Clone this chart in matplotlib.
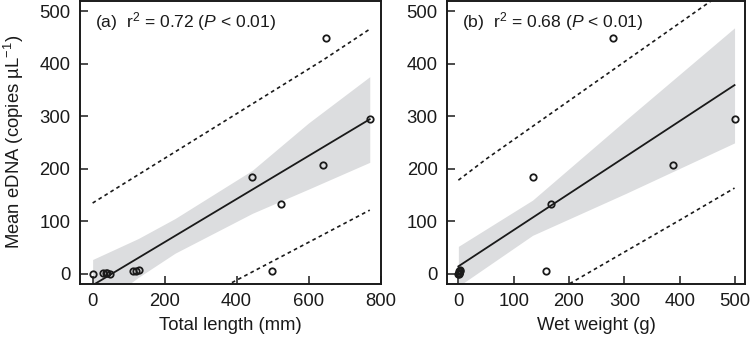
import matplotlib
matplotlib.use("Agg")
import matplotlib.pyplot as plt
import numpy as np

plt.rcParams['font.family'] = ['Liberation Sans', 'DejaVu Sans']
plt.rcParams['mathtext.fontset'] = 'custom'
plt.rcParams['mathtext.rm'] = 'Liberation Sans'
plt.rcParams['mathtext.it'] = 'Liberation Sans:italic'

# ---- data ----
edna = [0, 2, 1, 1, 0, 4.5, 5.5, 7, 185, 5.7, 133, 206, 448, 294]
total_length = [0, 30, 36, 41, 47, 113, 120, 128, 444, 498, 523, 640, 649, 770]
wet_weight = [0.2, 0.4, 0.6, 0.8, 1.0, 2.0, 2.3, 2.6, 134, 159, 167, 388, 279, 499]

# panel (a) regression, confidence band, prediction limits
a_fit_x = [0, 770]
a_fit_y = [-22, 294]
a_band_x = [0, 127, 229, 444, 600, 770]
a_band_lo = [-71, -7, 39, 115, 161, 212]
a_band_hi = [27, 67, 105, 197, 287, 375]
a_pu_x = [0, 641, 771]
a_pu_y = [134.5, 407, 466]
a_pl_x = [387, 770]
a_pl_y = [-17, 121]

# panel (b)
b_fit_x = [0, 499]
b_fit_y = [14, 359]
b_band_x = [0, 134, 303, 499]
b_band_lo = [-24, 73, 153, 249]
b_band_hi = [52, 140, 293, 468]
b_pu_x = [0, 52, 459, 499]
b_pu_y = [178, 219.6, 521, 551]
b_pl_x = [201, 400, 499]
b_pl_y = [-19, 102, 163]

labels = [r'(a)  r$^2$ = 0.72 ($\mathit{P}$ < 0.01)', r'(b)  r$^2$ = 0.68 ($\mathit{P}$ < 0.01)']
xlabels = ['Total length (mm)', 'Wet weight (g)']
ylabel = r'Mean eDNA (copies µL$^{-1}$)'
a_xticks = [0, 200, 400, 600, 800]
b_xticks = [0, 100, 200, 300, 400, 500]
yticks = [0, 100, 200, 300, 400, 500]

fig = plt.figure(figsize=(7.5, 3.42), dpi=100)
ax1 = fig.add_axes([0.1067, 0.1705, 0.4007, 0.828])
ax2 = fig.add_axes([0.5964, 0.1705, 0.3970, 0.828])

band_col = '#dcdddf'
fs = 13.3
panels = [
    (ax1, total_length, a_fit_x, a_fit_y, a_band_x, a_band_lo, a_band_hi, a_pu_x, a_pu_y, a_pl_x, a_pl_y, (-35, 800), a_xticks),
    (ax2, wet_weight, b_fit_x, b_fit_y, b_band_x, b_band_lo, b_band_hi, b_pu_x, b_pu_y, b_pl_x, b_pl_y, (-20, 518), b_xticks),
]
for i, (ax, xs, fx, fy, bx, blo, bhi, pux, puy, plx, ply, xl, xt) in enumerate(panels):
    ax.fill_between(bx, blo, bhi, color=band_col, lw=0, zorder=1)
    ax.plot(fx, fy, color='#1a1a1a', lw=1.3, zorder=3)
    ax.plot(pux, puy, color='#1a1a1a', lw=1.2, ls=(0, (2.2, 2.0)), zorder=3)
    ax.plot(plx, ply, color='#1a1a1a', lw=1.2, ls=(0, (2.2, 2.0)), zorder=3)
    ax.plot(xs, edna, ls='none', marker='o', ms=4.6, mfc='none', mec='#1a1a1a', mew=1.3, zorder=4)
    ax.set_xlim(*xl)
    ax.set_ylim(-19, 520)
    ax.set_xticks(xt)
    ax.set_yticks(yticks)
    ax.tick_params(direction='in', length=6, width=1.1, labelsize=fs, pad=7, colors='#1a1a1a')
    for s in ax.spines.values():
        s.set_linewidth(1.4)
        s.set_color('#1a1a1a')
    ax.set_xlabel(xlabels[i], fontsize=fs, color='#1a1a1a', labelpad=5)
    ax.text(0.05, 0.925, labels[i], transform=ax.transAxes, fontsize=12.6, va='center', ha='left', color='#1a1a1a')
ax1.set_ylabel(ylabel, fontsize=fs, color='#1a1a1a')
ax1.yaxis.set_label_coords(-0.18, 0.5)

fig.savefig('out.png', dpi=100)
